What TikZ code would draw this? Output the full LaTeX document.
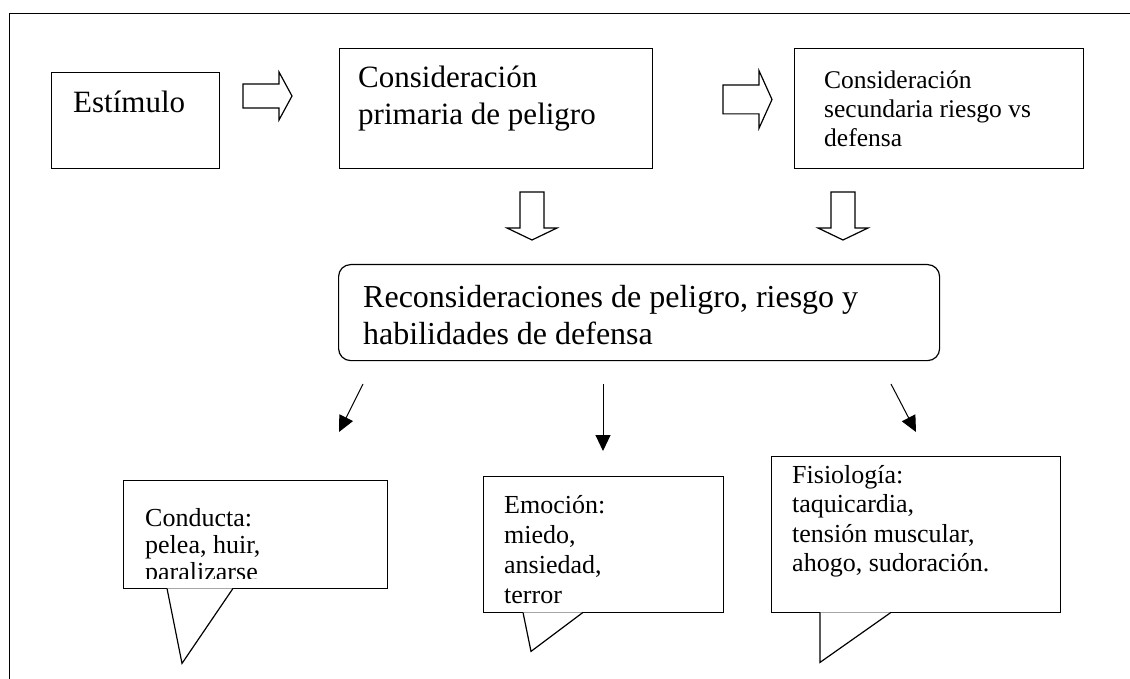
\documentclass[tikz,border=0pt]{standalone}
\usepackage{fontspec}
\setmainfont{Liberation Serif}
\usetikzlibrary{arrows.meta, positioning}
\newcommand\boxfont{\fontsize{31}{37}\selectfont}
\newcommand\recofont{\fontsize{32}{37}\selectfont}
\newcommand\secfont{\fontsize{25.5}{29}\selectfont}
\newcommand\callfont{\fontsize{26}{29.5}\selectfont}
\newcommand\condfont{\fontsize{26}{27}\selectfont}
\newcommand\emofont{\fontsize{26}{30}\selectfont}
\tikzstyle{box} = [draw, line width=1.2pt, rectangle, inner sep=0pt, anchor=north west]
\tikzstyle{txt} = [inner sep=0pt, align=left]
\tikzstyle{arrow} = [line width=1pt, -{Triangle[length=16pt,width=15pt]}]
\tikzstyle{hollow} = [draw, line width=1.2pt, fill=white]

\begin{document}
\begin{tikzpicture}[x=1pt, y=-1pt,
    pics/rarrow/.style={code={\draw[hollow] (0,-12) -- (36,-12) -- (36,-24) -- (49,0) -- (36,24) -- (36,12) -- (0,12) -- cycle;}},
    pics/darrow/.style={code={\draw[hollow] (-12,0) -- (12,0) -- (12,36) -- (25,36) -- (0,48) -- (-25,36) -- (-12,36) -- cycle;}}
]
\clip (0,0) rectangle (1130,679);
\draw[line width=1.3pt] (9.5,13.3) rectangle (1200,750);

% first row
\node[box, minimum width=168pt, minimum height=96pt] (est) at (51,72) {};
\node[txt, font=\boxfont, below right=14.4pt and 22pt of est.north west] (est-t) {\strut Estímulo};
\node[box, minimum width=313pt, minimum height=120pt] (prim) at (339,48) {};
\node[txt, font=\boxfont, below right=13.4pt and 19pt of prim.north west] (prim-t) {\strut Consideración\\primaria de peligro};
\node[box, minimum width=289pt, minimum height=120pt] (sec) at (794,48) {};
\node[txt, font=\secfont, below right=19.7pt and 30pt of sec.north west] (sec-t) {\strut Consideración\\secundaria riesgo vs\\defensa};

\pic at (243,96) {rarrow};
\pic[yscale=1.2] at (723,99.5) {rarrow};
\pic at (532,192) {darrow};
\pic at (843,192) {darrow};

% reconsideraciones
\node[box, rounded corners=12pt, minimum width=601pt, minimum height=96pt] (reco) at (338,264) {};
\node[txt, font=\recofont, below right=17.1pt and 25pt of reco.north west] (reco-t) {\strut Reconsideraciones de peligro, riesgo y\\habilidades de defensa};

% respuestas
\node[box, minimum width=264pt, minimum height=108pt] (cond) at (123,480) {};
\node[box, minimum width=240pt, minimum height=136pt] (emo) at (483,476) {};
\node[box, minimum width=289pt, minimum height=156pt] (fis) at (771,456) {};
\begin{scope}
\clip (cond.north west) rectangle ([yshift=11pt]cond.south east);
\node[txt, font=\condfont, below right=27.1pt and 22pt of cond.north west] (cond-t) {\strut Conducta:\\pelea, huir,\\paralizarse};
\end{scope}
\begin{scope}
\clip (emo.north west) rectangle ([yshift=10pt]emo.south east);
\node[txt, font=\emofont, below right=16pt and 21pt of emo.north west] (emo-t) {\strut Emoción:\\miedo,\\ansiedad,\\terror};
\end{scope}
\node[txt, font=\callfont, below right=6.35pt and 21pt of fis.north west] (fis-t) {\strut Fisiología:\\taquicardia,\\tensión muscular,\\ahogo, sudoración.};

% colas de los globos
\draw[hollow] ([xshift=44pt,yshift=0.8pt]cond.south west) -- ++(15,75) -- ([xshift=110pt,yshift=0.8pt]cond.south west);
\draw[hollow] ([xshift=40pt,yshift=0.8pt]emo.south west) -- ++(8,39) -- ([xshift=100pt,yshift=0.8pt]emo.south west);
\draw[hollow] ([xshift=49pt,yshift=0.8pt]fis.south west) -- ++(0,50) -- ([xshift=120pt,yshift=0.8pt]fis.south west);

% flechas
\coordinate (cond-from) at (363,384);
\coordinate (cond-to) at (339,432);
\coordinate (emo-from) at (603,384);
\coordinate (emo-to) at (603,451);
\coordinate (fis-from) at (891,384);
\coordinate (fis-to) at (916,432);
\draw[arrow] (cond-from) -- (cond-to);
\draw[arrow] (emo-from) -- (emo-to);
\draw[arrow] (fis-from) -- (fis-to);
\end{tikzpicture}
\end{document}
